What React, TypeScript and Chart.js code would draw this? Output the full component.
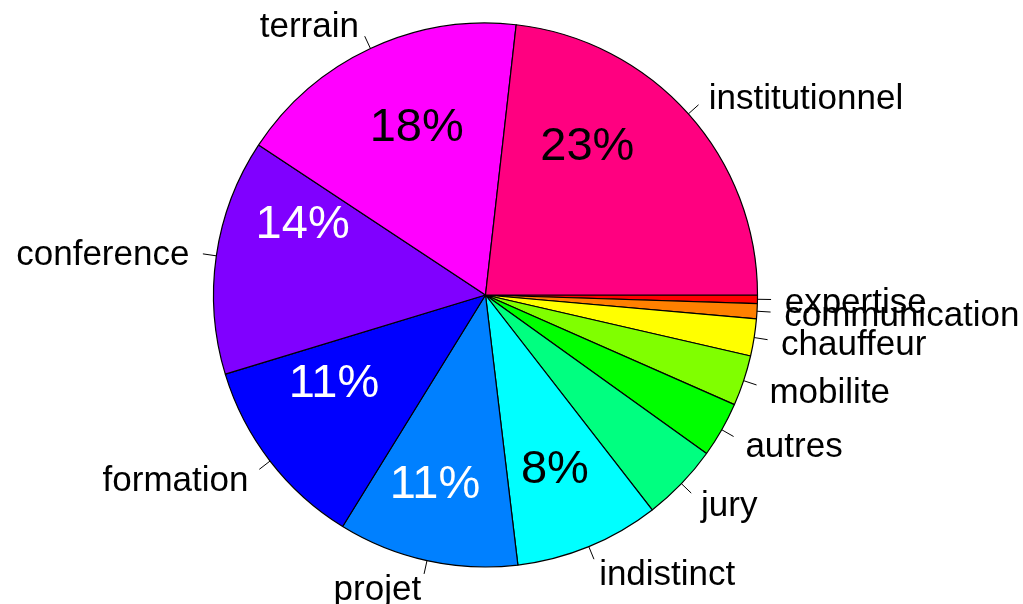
import React, { useEffect, useRef } from "react";
import { Chart, registerables } from "chart.js";

Chart.register(...registerables);

// Categories in the order R draws them (counter-clockwise from 3 o'clock)
const categories = [
  "institutionnel",
  "terrain",
  "conference",
  "formation",
  "projet",
  "indistinct",
  "jury",
  "autres",
  "mobilite",
  "chauffeur",
  "communication",
  "expertise",
];

// Share of each category (percent)
const values = [23.2, 17.5, 14.0, 11.5, 10.7, 8.6, 4.6, 3.3, 3.0, 2.2, 0.9, 0.5];

// Percent labels printed inside the larger slices
const percentLabels = ["23%", "18%", "14%", "11%", "11%", "8%", "", "", "", "", "", ""];

const sliceColors = [
  "#FF0080",
  "#FF00FF",
  "#8000FF",
  "#0000FF",
  "#0080FF",
  "#00FFFF",
  "#00FF80",
  "#00FF00",
  "#80FF00",
  "#FFFF00",
  "#FF8000",
  "#FF0000",
];

const percentColors = ["#000", "#000", "#fff", "#fff", "#fff", "#000", "#000", "#000", "#000", "#000", "#000", "#000"];
// placement of percent labels inside each slice: fraction along the slice (clockwise), fraction of radius
const percentT = [0.328, 0.549, 0.772, 0.697, 0.572, 0.509, 0.5, 0.5, 0.5, 0.5, 0.5, 0.5];
const percentR = [0.672, 0.677, 0.725, 0.64, 0.709, 0.68, 0.7, 0.7, 0.7, 0.7, 0.7, 0.7];

const FONT = '"Liberation Sans", Arial, sans-serif';
const LABEL_SIZE = 35;
const PCT_SIZE = 47;

export default function App() {
  const ref = useRef<HTMLCanvasElement | null>(null);

  useEffect(() => {
    const canvas = ref.current;
    if (!canvas) return;
    const n = categories.length;
    // Chart.js draws clockwise: reverse so it matches R's counter-clockwise order
    const order = categories.map((_, i) => n - 1 - i);

    const labelPlugin = {
      id: "rPieLabels",
      afterDatasetsDraw(chart: any) {
        const ctx = chart.ctx as CanvasRenderingContext2D;
        const meta = chart.getDatasetMeta(0);
        ctx.save();
        meta.data.forEach((el: any, i: number) => {
          const j = order[i];
          const { x, y, startAngle, endAngle, outerRadius } = el.getProps(
            ["x", "y", "startAngle", "endAngle", "outerRadius"],
            true
          );
          const mid = (startAngle + endAngle) / 2;
          const c = Math.cos(mid);
          const s = Math.sin(mid);
          // tick
          ctx.strokeStyle = "#000";
          ctx.lineWidth = 1;
          ctx.beginPath();
          ctx.moveTo(x + c * outerRadius, y + s * outerRadius);
          ctx.lineTo(x + c * outerRadius * 1.05, y + s * outerRadius * 1.05);
          ctx.stroke();
          // outer label
          ctx.fillStyle = "#000";
          ctx.font = `${LABEL_SIZE}px ${FONT}`;
          ctx.textAlign = c > 0 ? "left" : "right";
          ctx.textBaseline = "alphabetic";
          const lx = x + c * outerRadius * 1.1;
          const ly = y + s * outerRadius * 1.1;
          ctx.fillText(categories[j], lx, ly + LABEL_SIZE * 0.38);
          // percent label
          const txt = percentLabels[j];
          if (txt) {
            const a = startAngle + (endAngle - startAngle) * percentT[j];
            const r = outerRadius * percentR[j];
            ctx.font = `${PCT_SIZE}px ${FONT}`;
            ctx.textAlign = "center";
            ctx.fillStyle = percentColors[j];
            ctx.fillText(txt, x + Math.cos(a) * r, y + Math.sin(a) * r + PCT_SIZE * 0.35);
          }
        });
        ctx.restore();
      },
    };

    const chart = new Chart(canvas, {
      type: "pie",
      data: {
        labels: order.map((j) => categories[j]),
        datasets: [
          {
            data: order.map((j) => values[j]),
            backgroundColor: order.map((j) => sliceColors[j]),
            borderColor: "#000",
            borderWidth: 1.2,
          },
        ],
      },
      options: {
        responsive: false,
        animation: false,
        rotation: 90,
        radius: 272,
        layout: { padding: { left: 213.3, right: 265.3, top: 22.8, bottom: 36.8 } },
        plugins: {
          legend: { display: false },
          tooltip: { enabled: false },
        },
      },
      plugins: [labelPlugin],
    });
    return () => chart.destroy();
  }, []);

  return (
    <div style={{ position: "absolute", left: 0, top: 0, width: 1023, height: 604, background: "#fff" }}>
      <canvas ref={ref} width={1023} height={604} />
    </div>
  );
}
